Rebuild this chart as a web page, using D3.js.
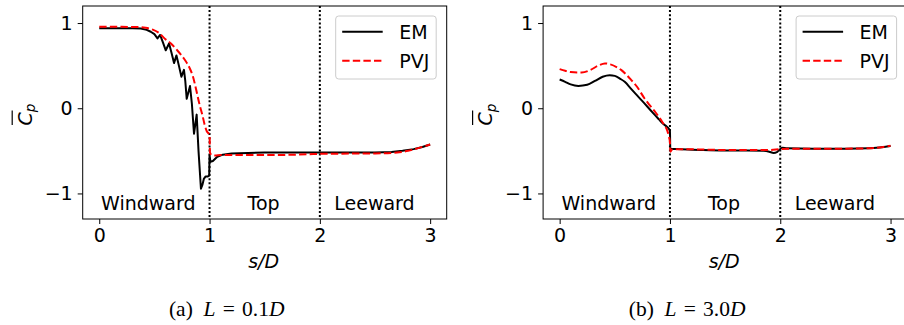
<!DOCTYPE html>
<html>
<head>
<meta charset="utf-8">
<script src="https://cdn.jsdelivr.net/npm/d3@7"></script>
<style>
  html, body { margin: 0; padding: 0; background: #fff; }
  svg { display: block; }
</style>
</head>
<body>
<svg id="fig" width="904" height="325"></svg>
<script>
// Mean surface pressure coefficient along the body contour, s/D
// Panel (a): L = 0.1D, panel (b): L = 3.0D

const xTicks = [0, 1, 2, 3];
const yTicks = [-1, 0, 1];
const regionLabels = ["Windward", "Top", "Leeward"];
const regionCenters = [0.445, 1.49, 2.495];
const seriesNames = ["EM", "PVJ"];

// Panel (a) EM: [s/D, Cp]
const emShort = [
  [0, 0.94], [0.1, 0.94], [0.2, 0.94], [0.3, 0.94], [0.377, 0.937], [0.43, 0.92],
  [0.467, 0.898], [0.50, 0.87], [0.528, 0.82], [0.552, 0.86], [0.578, 0.77],
  [0.603, 0.68], [0.633, 0.76], [0.655, 0.65], [0.678, 0.53], [0.70, 0.62],
  [0.722, 0.50], [0.745, 0.37], [0.768, 0.45], [0.78, 0.32], [0.793, 0.11],
  [0.823, 0.26], [0.84, 0.05], [0.859, -0.30], [0.883, -0.075], [0.90, -0.50],
  [0.922, -0.945], [0.935, -0.90], [0.948, -0.83], [0.965, -0.80], [0.985, -0.80],
  [0.997, -0.79], [1.0, -0.55], [1.008, -0.63], [1.03, -0.62], [1.07, -0.57],
  [1.12, -0.545], [1.2, -0.53], [1.5, -0.52], [2.0, -0.52], [2.5, -0.52],
  [2.65, -0.515], [2.75, -0.50], [2.85, -0.48], [2.93, -0.455], [3.0, -0.425]
];
// Panel (a) PVJ
const pvjShort = [
  [0, 0.955], [0.2, 0.955], [0.35, 0.953], [0.42, 0.945], [0.48, 0.925],
  [0.54, 0.885], [0.60, 0.81], [0.65, 0.76], [0.70, 0.69], [0.74, 0.63],
  [0.78, 0.56], [0.82, 0.47], [0.85, 0.37], [0.88, 0.21], [0.91, 0.04],
  [0.935, -0.08], [0.955, -0.19], [0.975, -0.27], [0.995, -0.30], [1.0, -0.31],
  [1.004, -0.52], [1.02, -0.55], [1.05, -0.555], [1.1, -0.55], [1.5, -0.55],
  [1.9, -0.54], [2.0, -0.535], [2.5, -0.53], [2.7, -0.52], [2.8, -0.50],
  [2.9, -0.465], [3.0, -0.425]
];
// Panel (b) EM
const emLong = [
  [0, 0.337], [0.05, 0.31], [0.1, 0.28], [0.17, 0.262], [0.25, 0.275],
  [0.32, 0.32], [0.39, 0.37], [0.454, 0.388], [0.5, 0.38], [0.55, 0.345],
  [0.59, 0.31], [0.65, 0.225], [0.7, 0.154], [0.75, 0.083], [0.8, 0.012],
  [0.85, -0.06], [0.9, -0.13], [0.936, -0.18], [0.97, -0.215], [0.99, -0.24],
  [1.0, -0.27], [1.003, -0.475], [1.1, -0.48], [1.3, -0.49], [1.5, -0.495],
  [1.7, -0.495], [1.85, -0.50], [1.9, -0.51], [1.94, -0.525], [1.97, -0.515],
  [1.99, -0.49], [2.02, -0.465], [2.06, -0.47], [2.3, -0.475], [2.6, -0.475],
  [2.8, -0.47], [2.9, -0.46], [3.0, -0.443]
];
// Panel (b) PVJ
const pvjLong = [
  [0, 0.459], [0.05, 0.44], [0.1, 0.425], [0.2, 0.42], [0.28, 0.45],
  [0.35, 0.50], [0.41, 0.526], [0.46, 0.515], [0.52, 0.48], [0.56, 0.447],
  [0.6, 0.40], [0.65, 0.33], [0.7, 0.255], [0.77, 0.114], [0.82, 0.03],
  [0.87, -0.05], [0.92, -0.14], [0.95, -0.20], [0.975, -0.26], [0.99, -0.33],
  [1.0, -0.40], [1.004, -0.51], [1.02, -0.485], [1.1, -0.48], [1.5, -0.49],
  [1.9, -0.49], [2.0, -0.48], [2.1, -0.475], [2.5, -0.475], [2.8, -0.47],
  [2.9, -0.46], [3.0, -0.44]
];

const panels = [
  { id: "a", left: 82.7, em: emShort, pvj: pvjShort, tag: "(a)", value: "0.1" },
  { id: "b", left: 543.1, em: emLong, pvj: pvjLong, tag: "(b)", value: "3.0" }
];

const svg = d3.select("#fig");
const FONT = "DejaVu Sans, Noto Sans, sans-serif";
const axTop = 6, axBottom = 219, axW = 364;

panels.forEach(p => {
  const x = d3.scaleLinear().domain([-0.15, 3.15]).range([p.left, p.left + axW]);
  const y = d3.scaleLinear().domain([-1.3, 1.2]).range([axBottom, axTop]);
  const g = svg.append("g");

  const clipId = "clip-" + p.id;
  g.append("clipPath").attr("id", clipId)
    .append("rect").attr("x", p.left).attr("y", axTop)
    .attr("width", axW).attr("height", axBottom - axTop);

  // region separators
  [1, 2].forEach(v => {
    g.append("line")
      .attr("x1", x(v)).attr("x2", x(v)).attr("y1", axTop).attr("y2", axBottom)
      .attr("stroke", "#000").attr("stroke-width", 2)
      .attr("stroke-dasharray", "2,2.1");
  });

  // region names
  regionLabels.forEach((t, i) => {
    g.append("text")
      .attr("x", x(regionCenters[i])).attr("y", y(-1.2))
      .attr("text-anchor", "middle")
      .attr("font-family", FONT).attr("font-size", 19)
      .text(t);
  });

  const line = d3.line().x(d => x(d[0])).y(d => y(d[1]));
  const smooth = d3.line().x(d => x(d[0])).y(d => y(d[1])).curve(d3.curveMonotoneX);

  const plot = g.append("g").attr("clip-path", `url(#${clipId})`);
  plot.append("path").datum(p.em)
    .attr("d", p.id === "a" ? line : smooth)
    .attr("fill", "none").attr("stroke", "#000").attr("stroke-width", 2)
    .attr("stroke-linejoin", "round");
  plot.append("path").datum(p.pvj)
    .attr("d", smooth)
    .attr("fill", "none").attr("stroke", "#ff0000").attr("stroke-width", 2)
    .attr("stroke-dasharray", "7.4,3.2");

  // axes
  const xAxis = d3.axisBottom(x).tickValues(xTicks).tickSize(5).tickPadding(5).tickSizeOuter(0)
    .tickFormat(d3.format("d"));
  const yAxis = d3.axisLeft(y).tickValues(yTicks).tickSize(5).tickPadding(5).tickSizeOuter(0)
    .tickFormat(d => d < 0 ? "\u2212" + Math.abs(d) : String(d));

  const gx = g.append("g").attr("transform", `translate(0,${axBottom})`).call(xAxis);
  const gy = g.append("g").attr("transform", `translate(${p.left},0)`).call(yAxis);
  [gx, gy].forEach(a => {
    a.select(".domain").remove();
    a.selectAll("line").attr("stroke", "#000").attr("stroke-width", 1);
    a.selectAll("text").attr("font-family", FONT).attr("font-size", 19).attr("fill", "#000");
  });

  // spines
  g.append("rect")
    .attr("x", p.left).attr("y", axTop).attr("width", axW).attr("height", axBottom - axTop)
    .attr("fill", "none").attr("stroke", "#000").attr("stroke-width", 1);

  // x label
  g.append("text")
    .attr("x", p.left + axW / 2 - 1).attr("y", 268)
    .attr("text-anchor", "middle")
    .attr("font-family", FONT).attr("font-size", 19).attr("font-style", "italic")
    .text("s/D");

  // y label: overlined C with subscript p
  const yl = g.append("g").attr("transform", `translate(${p.left - 51},113) rotate(-90)`);
  yl.append("text")
    .attr("x", -12.5).attr("y", 0)
    .attr("font-family", FONT).attr("font-size", 19).attr("font-style", "italic")
    .text("C")
    .append("tspan").attr("dy", 3.5).attr("font-size", 13.5).text("p");
  yl.append("line")
    .attr("x1", -12).attr("x2", 2.5).attr("y1", -19.5).attr("y2", -19.5)
    .attr("stroke", "#000").attr("stroke-width", 1.2);

  // legend
  const lg = g.append("g").attr("transform", `translate(${p.left + 253},16)`);
  lg.append("rect")
    .attr("width", 100.5).attr("height", 63).attr("rx", 3)
    .attr("fill", "#fff").attr("fill-opacity", 0.8)
    .attr("stroke", "#cccccc").attr("stroke-width", 1);
  seriesNames.forEach((name, i) => {
    const yy = 15.7 + i * 29;
    lg.append("line")
      .attr("x1", 6.5).attr("x2", 47).attr("y1", yy).attr("y2", yy)
      .attr("stroke", i === 0 ? "#000" : "#ff0000").attr("stroke-width", 2)
      .attr("stroke-dasharray", i === 0 ? null : "7.4,3.2");
    lg.append("text")
      .attr("x", 63.5).attr("y", yy + 7.6)
      .attr("font-family", FONT).attr("font-size", 19)
      .text(name);
  });

  // sub-caption
  const cap = g.append("text")
    .attr("x", p.left + 144).attr("y", 316)
    .attr("text-anchor", "middle")
    .attr("font-family", "Liberation Serif, DejaVu Serif, serif").attr("font-size", 21.5);
  cap.append("tspan").text(p.tag + "\u2002");
  cap.append("tspan").attr("font-style", "italic").text("L");
  cap.append("tspan").text("\u2004=\u2004" + p.value);
  cap.append("tspan").attr("font-style", "italic").text("D");
});
</script>
</body>
</html>
